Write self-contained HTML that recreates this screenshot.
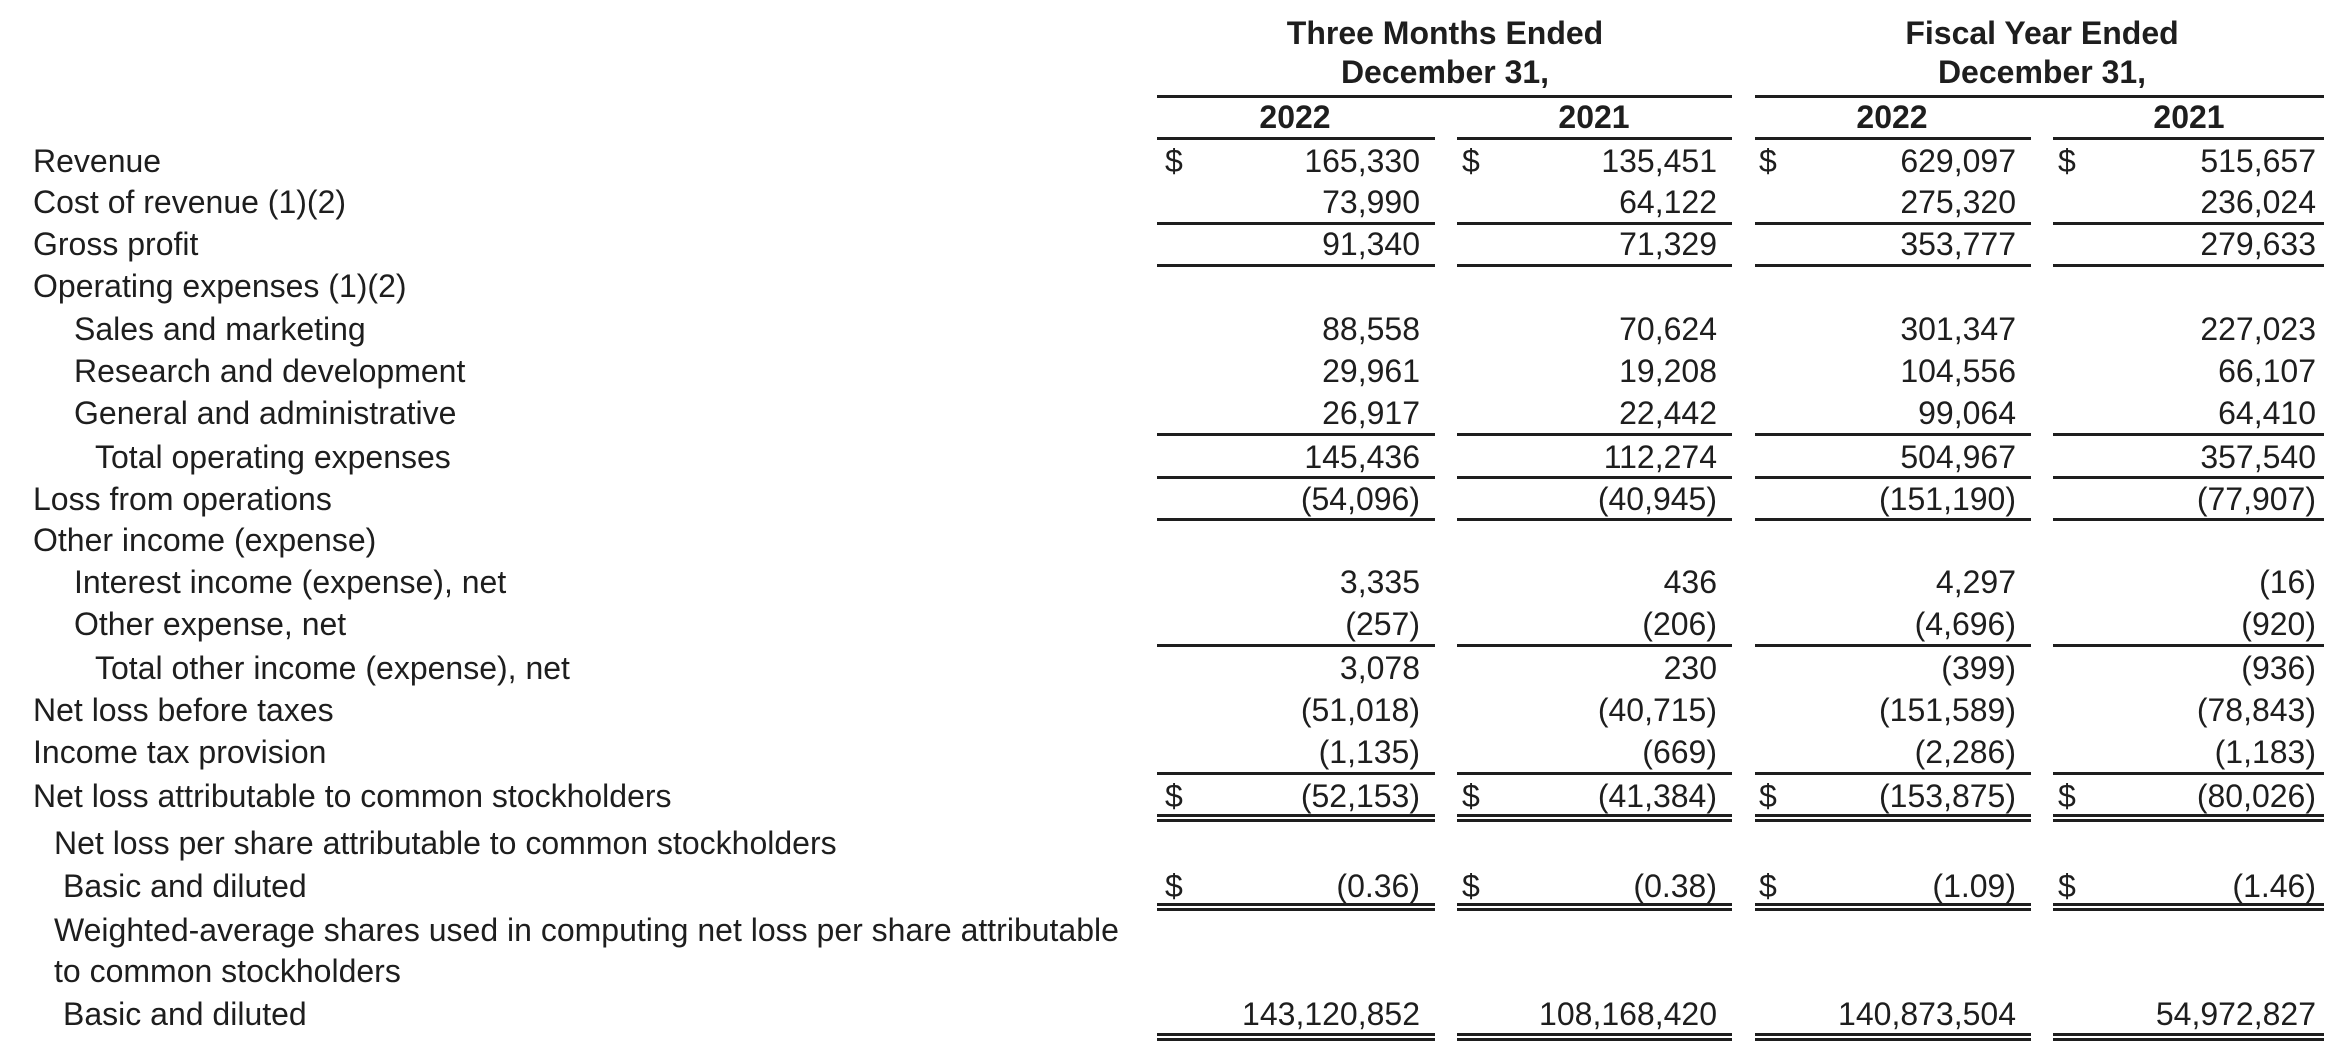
<!DOCTYPE html>
<html><head><meta charset="utf-8"><style>
body{margin:0;width:2348px;height:1052px;background:#fff;position:relative;overflow:hidden;font-family:"Liberation Sans",sans-serif;color:#1e1e1e;font-size:32px}
.t{position:absolute;height:42px;line-height:42px;white-space:nowrap;letter-spacing:0}
.b{font-weight:bold}
.l{position:absolute;height:3px;background:#1e1e1e}
</style></head><body>
<div id="r"></div>
<script>
var H='';
function X(x){return Math.round(x*0.995);}
function Y(y){return Math.round(y*0.997);}
function t(x,y,s,cls,right){x=X(x);y=Y(y);H+='<div class="t '+(cls||'')+'" style="'+(right?'right:'+(2348-x)+'px':'left:'+x+'px')+';top:'+(y-21)+'px">'+s+'</div>';}
function c(cx,y,s){cx=X(cx);y=Y(y);H+='<div class="t b" style="left:'+(cx-300)+'px;width:600px;text-align:center;top:'+(y-21)+'px">'+s+'</div>';}
function l(x1,x2,y){x1=X(x1);x2=X(x2);y=Y(y);H+='<div class="l" style="left:'+x1+'px;width:'+(x2-x1)+'px;top:'+(y-1)+'px"></div>';}
var cols=[[1163,1442],[1464,1741],[1764,2041],[2063,2336]];
var rights=[1427,1726,2026,2328], dol=[1171,1469,1768,2068];
c(1452,33,'Three Months Ended');c(1452,72,'December 31,');
c(2052,33,'Fiscal Year Ended');c(2052,72,'December 31,');
l(1163,1741,96);l(1764,2336,96);
var yc=[1302,1602,1902,2200];
['2022','2021','2022','2021'].forEach(function(s,i){c(yc[i],117,s)});
cols.forEach(function(k){l(k[0],k[1],138)});
var rows=[
[161,33,'Revenue',['165,330','135,451','629,097','515,657'],1],
[203,33,'Cost of revenue (1)(2)',['73,990','64,122','275,320','236,024']],
[245,33,'Gross profit',['91,340','71,329','353,777','279,633']],
[287,33,'Operating expenses (1)(2)',null],
[330,74,'Sales and marketing',['88,558','70,624','301,347','227,023']],
[372,74,'Research and development',['29,961','19,208','104,556','66,107']],
[414,74,'General and administrative',['26,917','22,442','99,064','64,410']],
[458,95,'Total operating expenses',['145,436','112,274','504,967','357,540']],
[500,33,'Loss from operations',['(54,096)','(40,945)','(151,190)','(77,907)']],
[542,33,'Other income (expense)',null],
[584,74,'Interest income (expense), net',['3,335','436','4,297','(16)']],
[626,74,'Other expense, net',['(257)','(206)','(4,696)','(920)']],
[670,95,'Total other income (expense), net',['3,078','230','(399)','(936)']],
[712,33,'Net loss before taxes',['(51,018)','(40,715)','(151,589)','(78,843)']],
[754,33,'Income tax provision',['(1,135)','(669)','(2,286)','(1,183)']],
[798,33,'Net loss attributable to common stockholders',['(52,153)','(41,384)','(153,875)','(80,026)'],1],
[846,54,'Net loss per share attributable to common stockholders',null],
[889,63,'Basic and diluted',['(0.36)','(0.38)','(1.09)','(1.46)'],1],
[933,54,'Weighted-average shares used in computing net loss per share attributable',null],
[974,54,'to common stockholders',null],
[1017,63,'Basic and diluted',['143,120,852','108,168,420','140,873,504','54,972,827']]
];
rows.forEach(function(r){t(r[1],r[0],r[2]);if(r[3]){r[3].forEach(function(v,i){t(rights[i],r[0],v,'',1);if(r[4])t(dol[i],r[0],'$');});}});
cols.forEach(function(k){
 [224,266,435,478,521,647,775].forEach(function(y){l(k[0],k[1],y)});
 [817,822,907,912,1037,1042].forEach(function(y){l(k[0],k[1],y)});
});
document.getElementById('r').innerHTML=H;
</script>
</body></html>
